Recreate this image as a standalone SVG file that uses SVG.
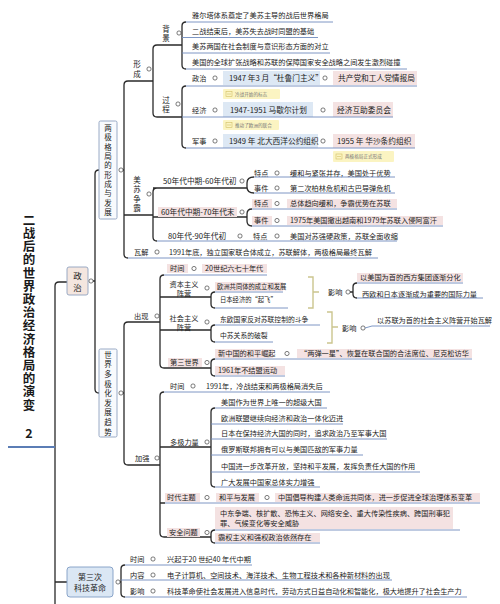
<svg xmlns="http://www.w3.org/2000/svg" width="500" height="604" viewBox="0 0 500 604">
<style>
text{font-family:"Noto Sans CJK SC","Noto Sans",sans-serif;fill:#222}
.t{font-size:7.2px}
.s{font-size:6.3px}
.tb{font-size:7.7px}
.m{text-anchor:middle}
.vt{writing-mode:vertical-rl;font-size:7.5px}
.ttl{font-size:12.5px;font-weight:bold;fill:#1a1a1a}
.br{fill:none;stroke:#2a2a2a;stroke-width:1.3}
.ul{fill:none;stroke:#6f8bbd;stroke-width:0.9}
.kh{fill:none;stroke:#cbc58e;stroke-width:1.4}
.o{fill:#fff;stroke:#444;stroke-width:0.7}
.pk{fill:#f4e2e2}
.bl{fill:#dde8f4}
.cl{fill:#fbf4c2}
.ci{fill:none;stroke:#d2bf66;stroke-width:0.6}
.ct{font-size:4.6px;fill:#777}
.box{stroke:#8ea2bf;stroke-width:0.9}
</style>
<defs>
<g id="note"><rect x="0" y="0" width="6" height="5" class="ci"/><line x1="1" y1="2.5" x2="5" y2="2.5" class="ci"/></g>
</defs>

<g id="connectors">
<path class="br" d="M67,282 H59 Q55,282 55,286 V604 M55,582 H67"/>
<path class="br" d="M99,170 Q95,170 95,174 V389 Q95,393 99,393 M93,281 H95"/>
<path class="br" d="M153,81 H128 Q124,81 124,85 V254 Q124,258 128,258 M123,170 H124 M124,215 H153"/>
<path class="br" d="M182,45 H157 Q153,45 153,49 V113 Q153,117 157,117 H182"/>
<path class="br" d="M186,22 Q182,22 182,26 V65 Q182,69 186,69"/>
<path class="br" d="M186,86 Q182,86 182,90 V144 Q182,148 186,148"/>
<path class="br" d="M157,188 Q153,188 153,192 V237 Q153,241 157,241 M153,188 H247 M153,217 H247"/>
<path class="br" d="M254,177 Q247,177 247,183 V187 Q247,193 254,193"/>
<path class="br" d="M252,209 Q247,209 247,214 V221 Q247,226 252,226"/>
<path class="br" d="M160,322 H128 Q124,322 124,326 V461 Q124,465 128,465 H160 M123,393 H124"/>
<path class="br" d="M164,275 Q160,275 160,279 V364 Q160,368 164,368 H211 M160,297 H211 M160,330 H211"/>
<path class="br" d="M215,292 Q211,292 211,296 V304 Q211,308 215,308"/>
<path class="br" d="M357,283 Q353,283 353,287 V294 Q353,298 357,298 M350,292 H353"/>
<path class="br" d="M215,325 Q211,325 211,329 V338 Q211,342 215,342"/>
<path class="br" d="M215,359 Q211,359 211,363 V372 Q211,376 215,376"/>
<path class="br" d="M164,392 Q160,392 160,396 V533 Q160,537 164,537 H211 M160,447 H211 M160,503 H165"/>
<path class="br" d="M215,408 Q211,408 211,412 V483 Q211,487 215,487"/>
<path class="br" d="M215,530 Q211,530 211,534 V539 Q211,543 215,543"/>
<path class="br" d="M125,565 Q121,565 121,569 V593 Q121,597 125,597 M120,582 H121"/>
<path class="kh" d="M308,277 H313 V308 H308 M313,292 H319"/>
<path class="kh" d="M327,312 H332 V343 H327 M332,327 H338"/>
</g>

<g id="title">
<text class="ttl" x="29" y="213.8" style="writing-mode:vertical-rl;letter-spacing:0.7px">二战后的世界政治经济格局的演变</text>
<text class="ttl" x="29" y="437.5" text-anchor="middle">2</text>
<path d="M8,447 H55" stroke="#5b7db5" stroke-width="2" fill="none"/>
</g>

<g id="n-zhengzhi">
<rect x="67" y="267" width="21" height="28" rx="2" fill="#f4e6df" class="box"/>
<text x="77.5" y="271.8" style="writing-mode:vertical-rl;font-size:8.5px;letter-spacing:3.5px">政治</text>
<circle cx="91" cy="281" r="2.1" class="o"/>
</g>

<g id="n-liangji">
<rect x="99" y="121" width="18" height="98" rx="1.5" fill="#f8fafd" class="box"/>
<text class="vt" x="108" y="124.3" style="letter-spacing:1.83px">两极格局的形成与发展</text>
<circle cx="121" cy="170" r="2.1" class="o"/>
</g>

<g id="n-xingcheng">
<text class="vt" x="137" y="60.3" style="letter-spacing:2.5px">形成</text>
<circle cx="149" cy="69" r="2.1" class="o"/>
</g>

<g id="n-beijing">
<text class="vt" x="166" y="25.3" style="letter-spacing:2px">背景</text>
<circle cx="179" cy="33" r="2.1" class="o"/>
<text class="t" x="192" y="17.6">雅尔塔体系奠定了美苏主导的战后世界格局</text>
<path class="ul" d="M186,22 H333"/>
<text class="t" x="192" y="33.6">二战结束后，美苏失去战时同盟的基础</text>
<path class="ul" d="M182,37.5 H318"/>
<text class="t" x="192" y="48.6">美苏两国在社会制度与意识形态方面的对立</text>
<path class="ul" d="M182,53 H330"/>
<text class="t" x="192" y="64.6">美国的全球扩张战略和苏联的保障国家安全战略之间发生激烈碰撞</text>
<path class="ul" d="M186,69 H407"/>
</g>

<g id="n-guocheng">
<text class="vt" x="166" y="96.3" style="letter-spacing:1.5px">过程</text>
<circle cx="178" cy="104" r="2.1" class="o"/>
</g>

<g id="n-gc-zhengzhi">
<text class="t" x="192" y="80.6">政治</text>
<circle cx="215" cy="78" r="2.1" class="o"/>
<rect x="223" y="71" width="97" height="14" class="bl"/>
<text class="tb" x="229" y="80.8">1947 年3 月“杜鲁门主义”</text>
<circle cx="325" cy="78" r="2.1" class="o"/>
<rect x="333" y="71" width="84" height="14" class="pk"/>
<text class="tb" x="338" y="80.8">共产党和工人党情报局</text>
<path class="ul" d="M186,86 H417"/>
<rect x="223" y="89" width="57" height="10" rx="1" class="cl"/>
<use href="#note" x="226" y="91.5"/>
<text class="ct" x="235" y="95.8">冷战开始的标志</text>
</g>

<g id="n-gc-jingji">
<text class="t" x="192" y="112.6">经济</text>
<circle cx="215" cy="110" r="2.1" class="o"/>
<rect x="223" y="102" width="90" height="15" class="bl"/>
<text class="tb" x="230" y="112.8">1947-1951 马歇尔计划</text>
<circle cx="323" cy="110" r="2.1" class="o"/>
<rect x="333" y="102" width="60" height="15" class="pk"/>
<text class="tb" x="337" y="112.8">经济互助委员会</text>
<path class="ul" d="M182,117 H393"/>
<rect x="223" y="120" width="56" height="10" rx="1" class="cl"/>
<use href="#note" x="226" y="122.5"/>
<text class="ct" x="235" y="126.8">推动了欧洲的联合</text>
</g>

<g id="n-gc-junshi">
<text class="t" x="192" y="143.6">军事</text>
<circle cx="215" cy="141" r="2.1" class="o"/>
<rect x="223" y="134" width="95" height="14" class="bl"/>
<text class="tb" x="229" y="143.8">1949 年 北大西洋公约组织</text>
<circle cx="323" cy="141" r="2.1" class="o"/>
<rect x="333" y="134" width="82" height="14" class="pk"/>
<text class="tb" x="337" y="143.8">1955 年 华沙条约组织</text>
<path class="ul" d="M186,148 H415"/>
<rect x="333" y="151" width="61" height="11" rx="1" class="cl"/>
<use href="#note" x="336" y="154"/>
<text class="ct" x="345" y="158.3">两极格局正式形成</text>
</g>

<g id="n-meisu">
<text class="vt" x="137" y="176.3" style="letter-spacing:1.9px">美苏争霸</text>
<circle cx="149" cy="194" r="2.1" class="o"/>
</g>

<g id="n-50s">
<text class="tb" x="163" y="183.8">50年代中期-60年代初</text>
<circle cx="242" cy="181" r="2.1" class="o"/>
<text class="t" x="254" y="175.6">特点</text>
<circle cx="277" cy="173" r="2.1" class="o"/>
<text class="t" x="290" y="175.6">缓和与紧张并存，美国处于优势</text>
<path class="ul" d="M254,177 H395"/>
<text class="t" x="254" y="190.6">事件</text>
<circle cx="277" cy="188" r="2.1" class="o"/>
<text class="t" x="290" y="190.6">第二次柏林危机和古巴导弹危机</text>
<path class="ul" d="M254,193 H395"/>
</g>

<g id="n-60s">
<rect x="158" y="207" width="79" height="10" class="pk"/>
<text class="tb" x="161" y="214.8">60年代中期-70年代末</text>
<circle cx="242" cy="212" r="2.1" class="o"/>
<rect x="252" y="199" width="20" height="9" class="pk"/>
<text class="t" x="254" y="206.1">特点</text>
<circle cx="277" cy="203.5" r="2.1" class="o"/>
<rect x="287" y="199" width="110" height="9" class="pk"/>
<text class="t" x="290" y="206.1">总体趋向缓和，争霸优势在苏联</text>
<path class="ul" d="M252,209 H397"/>
<rect x="252" y="216" width="20" height="9" class="pk"/>
<text class="t" x="254" y="223.1">事件</text>
<circle cx="277" cy="220.5" r="2.1" class="o"/>
<rect x="287" y="216" width="156" height="9" class="pk"/>
<text class="t" x="290" y="223.1">1975年美国撤出越南和1979年苏联入侵阿富汗</text>
<path class="ul" d="M252,226 H443"/>
</g>

<g id="n-80s">
<text class="tb" x="168" y="238.8">80年代-90年代初</text>
<circle cx="240" cy="236" r="2.1" class="o"/>
<text class="t" x="253" y="238.6">特点</text>
<circle cx="277" cy="236" r="2.1" class="o"/>
<text class="t" x="290" y="238.6">美国对苏强硬政策，苏联全面收缩</text>
<path class="ul" d="M157,241 H397"/>
</g>

<g id="n-wajie">
<text class="t" x="134" y="254.6">瓦解</text>
<circle cx="157" cy="252" r="2.1" class="o"/>
<text class="t" x="169" y="254.6">1991年底，独立国家联合体成立，苏联解体，两极格局最终瓦解</text>
<path class="ul" d="M128,258 H378"/>
</g>

<g id="n-duoji">
<rect x="99" y="349" width="18" height="88" rx="1.5" fill="#f8fafd" class="box"/>
<text class="vt" x="108" y="351.3" style="letter-spacing:2.1px">世界多极化发展趋势</text>
<circle cx="121" cy="393" r="2.1" class="o"/>
</g>

<g id="n-chuxian">
<text class="t" x="134" y="318.6">出现</text>
<circle cx="157" cy="316" r="2.1" class="o"/>
</g>

<g id="n-cx-shijian">
<rect x="167" y="264" width="21" height="9" class="pk"/>
<text class="t" x="170" y="271.1">时间</text>
<circle cx="194" cy="268.5" r="2.1" class="o"/>
<rect x="202" y="264" width="65" height="9" class="pk"/>
<text class="t" x="205" y="271.1">20世纪六七十年代</text>
<path class="ul" d="M164,275 H267"/>
</g>

<g id="n-ziben">
<text class="t m"><tspan x="184" y="286.6">资本主义</tspan><tspan x="184" y="295.6">阵营</tspan></text>
<circle cx="207" cy="288" r="2.1" class="o"/>
<rect x="215" y="282" width="68" height="9" class="pk"/>
<text class="s" x="217" y="288.8">欧洲共同体的成立和发展</text>
<path class="ul" d="M215,292 H283"/>
<text class="s" x="220" y="302.4">日本经济的“起飞”</text>
<path class="ul" d="M215,308 H288"/>
<text class="t" x="328" y="294.6">影响</text>
<circle cx="348" cy="292" r="2.1" class="o"/>
<rect x="357" y="273" width="106" height="9" class="pk"/>
<text class="t" x="360" y="280.1">以美国为首的西方集团逐渐分化</text>
<path class="ul" d="M357,283 H463"/>
<text class="t" x="362" y="296.6">西欧和日本逐渐成为重要的国际力量</text>
<path class="ul" d="M357,298 H483"/>
</g>

<g id="n-shehui">
<text class="t m"><tspan x="184" y="320.6">社会主义</tspan><tspan x="184" y="329.6">阵营</tspan></text>
<circle cx="207" cy="322" r="2.1" class="o"/>
<text class="t" x="220" y="321.6" style="font-size:6.8px">东欧国家反对苏联控制的斗争</text>
<path class="ul" d="M215,325 H320"/>
<text class="t" x="220" y="337.6" style="font-size:6.8px">中苏关系的破裂</text>
<path class="ul" d="M215,342 H273"/>
<text class="t" x="342" y="330.6">影响</text>
<circle cx="363" cy="328" r="2.1" class="o"/>
<text class="t" x="377" y="323.4">以苏联为首的社会主义阵营开始瓦解</text>
<path class="ul" d="M365,328 L372,326 H490"/>
</g>

<g id="n-disan">
<rect x="168" y="358" width="34" height="9" class="pk"/>
<text class="t" x="170" y="365.1">第三世界</text>
<circle cx="207" cy="362.5" r="2.1" class="o"/>
<rect x="215" y="349" width="58" height="9" class="pk"/>
<text class="t" x="218" y="356.1">新中国的和平崛起</text>
<circle cx="287" cy="353.5" r="2.1" class="o"/>
<rect x="297" y="349" width="175" height="9" class="pk"/>
<text class="t" x="300" y="356.1">“两弹一星”、恢复在联合国的合法席位、尼克松访华</text>
<path class="ul" d="M215,359 H472"/>
<rect x="215" y="366" width="70" height="9" class="pk"/>
<text class="t" x="218" y="373.1">1961年不结盟运动</text>
<path class="ul" d="M215,376 H285"/>
</g>

<g id="n-jiaqiang">
<text class="t" x="135" y="460.6">加强</text>
<circle cx="157" cy="458" r="2.1" class="o"/>
<text class="t" x="170" y="388.6">时间</text>
<circle cx="193" cy="386" r="2.1" class="o"/>
<text class="t" x="206" y="388.6">1991年，冷战结束和两极格局消失后</text>
<path class="ul" d="M164,392 H330"/>
</g>

<g id="n-duojililiang">
<text class="t" x="170" y="444.6">多极力量</text>
<circle cx="207" cy="442" r="2.1" class="o"/>
<text class="t" x="221" y="404.6">美国作为世界上唯一的超级大国</text>
<path class="ul" d="M215,408 H327"/>
<text class="t" x="221" y="420.6">欧洲联盟继续向经济和政治一体化迈进</text>
<path class="ul" d="M211,424 H343"/>
<text class="t" x="221" y="435.6">日本在保持经济大国的同时，追求政治乃至军事大国</text>
<path class="ul" d="M211,439 H387"/>
<text class="t" x="221" y="451.6">俄罗斯联邦拥有可以与美国匹敌的军事力量</text>
<path class="ul" d="M211,455 H363"/>
<text class="t" x="221" y="468.6">中国进一步改革开放，坚持和平发展，发挥负责任大国的作用</text>
<path class="ul" d="M211,472 H420"/>
<text class="t" x="221" y="484.6">广大发展中国家总体实力增强</text>
<path class="ul" d="M215,487 H320"/>
</g>

<g id="n-shidai">
<rect x="165" y="493" width="35" height="9" class="pk"/>
<text class="t" x="167" y="500.1">时代主题</text>
<circle cx="207" cy="497.5" r="2.1" class="o"/>
<rect x="216" y="493" width="43" height="9" class="pk"/>
<text class="t" x="219" y="500.1">和平与发展</text>
<circle cx="267" cy="497.5" r="2.1" class="o"/>
<rect x="275" y="493" width="205" height="9" class="pk"/>
<text class="t" x="278" y="500.1">中国倡导构建人类命运共同体，进一步促进全球治理体系变革</text>
<path class="ul" d="M165,503 H480"/>
</g>

<g id="n-anquan">
<rect x="167" y="528" width="33" height="9" class="pk"/>
<text class="t" x="169" y="535">安全问题</text>
<circle cx="207" cy="532.5" r="2.1" class="o"/>
<rect x="215" y="507" width="238" height="22" class="pk"/>
<text class="t"><tspan x="220" y="515.6">中东争端、核扩散、恐怖主义、网络安全、重大传染性疾病、跨国刑事犯</tspan><tspan x="220" y="525.6">罪、气候变化等安全威胁</tspan></text>
<path class="ul" d="M215,530 H460"/>
<rect x="215" y="533" width="105" height="9" class="pk"/>
<text class="t" x="218" y="540.1">霸权主义和强权政治依然存在</text>
<path class="ul" d="M215,543 H320"/>
</g>

<g id="n-keji">
<rect x="67" y="567" width="46" height="30" rx="3" fill="#dbe7f4" stroke="#7f9cc4" stroke-width="0.9"/>
<text style="font-size:8px" class="m"><tspan x="90" y="580">第三次</tspan><tspan x="90" y="591">科技革命</tspan></text>
<circle cx="118" cy="582" r="2.1" class="o"/>
<text class="t" x="130" y="561.6">时间</text>
<circle cx="153" cy="559" r="2.1" class="o"/>
<text class="t" x="167" y="561.6">兴起于20 世纪40 年代中期</text>
<path class="ul" d="M125,565 H252"/>
<text class="t" x="130" y="577.6">内容</text>
<circle cx="153" cy="575" r="2.1" class="o"/>
<text class="t" x="167" y="577.6">电子计算机、空间技术、海洋技术、生物工程技术和各种新材料的出现</text>
<path class="ul" d="M121,580 H392"/>
<text class="t" x="130" y="593.6">影响</text>
<circle cx="153" cy="591" r="2.1" class="o"/>
<text class="t" x="167" y="593.6">科技革命使社会发展进入信息时代，劳动方式日益自动化和智能化，极大地提升了社会生产力</text>
<path class="ul" d="M125,597 H467"/>
</g>
</svg>
